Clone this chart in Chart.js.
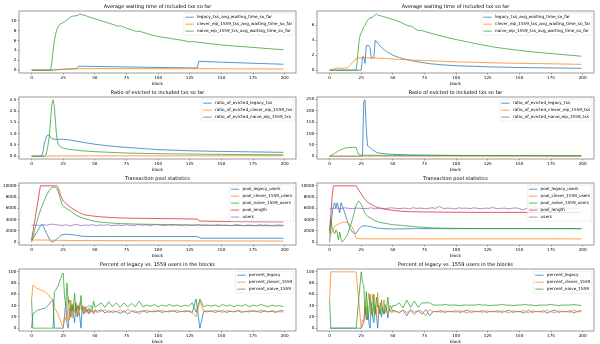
<!DOCTYPE html>
<html><head><meta charset="utf-8">
<script src="https://cdn.jsdelivr.net/npm/chart.js@4"></script>
<style>
html,body{margin:0;padding:0;background:#fff;}
#wrap{position:relative;width:600px;height:344px;overflow:hidden;background:#fff;}
canvas{position:absolute;}
</style></head><body><div id="wrap"></div>
<script>
// ---------- tick labels ----------
const xTicks = [0, 25, 50, 75, 100, 125, 150, 175, 200];
const waitLTicks = [0, 2, 4, 6, 8, 10];
const waitRTicks = [0, 2, 4, 6];
const evictLTicks = [0, 0.5, 1.0, 1.5, 2.0, 2.5];
const evictRTicks = [0, 50, 100, 150, 200, 250];
const poolTicks = [0, 2000, 4000, 6000, 8000, 10000];
const pctTicks = [0, 20, 40, 60, 80, 100];

// ---------- titles / labels ----------
const titles = ["Average waiting time of included txs so far", "Ratio of evicted to included txs so far",
  "Transaction pool statistics", "Percent of legacy vs. 1559 users in the blocks"];
const waitLabels = ["legacy_txs_avg_waiting_time_so_far", "clever_eip_1559_txs_avg_waiting_time_so_far", "naive_eip_1559_txs_avg_waiting_time_so_far"];
const evictLabels = ["ratio_of_evicted_legacy_txs", "ratio_of_evicted_clever_eip_1559_txs", "ratio_of_evicted_naive_eip_1559_txs"];
const poolLabels = ["pool_legacy_users", "pool_clever_1559_users", "pool_naive_1559_users", "pool_length", "users"];
const pctLabels = ["percent_legacy", "percent_clever_1559", "percent_naive_1559"];

// ---------- chart 1: waiting time (left) [block, value] ----------
const waitL_legacy = [[0,0],[15,0],[20,0.1],[25,0.18],[30,0.25],[36,0.3],[37,0.8],[50,0.75],[75,0.65],[100,0.55],[125,0.47],[131,0.45],[132,1.8],[150,1.62],[175,1.4],[199,1.2]];
const waitL_clever = [[0,0],[15,0],[20,0.08],[25,0.15],[30,0.22],[37,0.3],[50,0.32],[100,0.3],[150,0.28],[199,0.25]];
const waitL_naive = [[0,0],[15,0],[16,1.5],[17,4],[18,6],[19,7.3],[20,8.2],[21,8.8],[22,9.2],[24,9.5],[26,9.8],[28,10.2],[30,10.6],[32,10.9],[35,11.0],[37,11.1],[38,11.4],[40,11.2],[42,11.1],[45,10.8],[50,10.4],[55,10.0],[60,9.6],[65,9.2],[68,8.9],[70,9.0],[72,8.8],[75,8.5],[80,8.1],[83,7.8],[85,7.9],[90,7.5],[95,7.1],[100,6.8],[110,6.4],[120,6.0],[125,5.7],[126,5.85],[130,5.7],[140,5.4],[150,5.1],[160,4.9],[170,4.7],[180,4.5],[190,4.3],[199,4.15]];

// ---------- chart 2: waiting time (right) ----------
const waitR_legacy = [[0,0],[25,0],[26,1.8],[27,1.8],[28,0.9],[29,3.3],[31,3.3],[32,3.0],[33,1.6],[35,1.7],[36,4.0],[37,3.9],[39,3.4],[42,2.9],[45,2.5],[50,2.0],[55,1.7],[60,1.45],[70,1.1],[80,0.85],[90,0.7],[100,0.6],[125,0.45],[150,0.35],[175,0.3],[199,0.25]];
const waitR_clever = [[0,0],[3,0.15],[6,0.3],[9,0.25],[12,0.25],[14,0.3],[16,0.6],[18,1.0],[20,1.4],[22,1.6],[25,1.65],[35,1.65],[45,1.55],[55,1.45],[65,1.35],[80,1.25],[100,1.12],[125,1.0],[150,0.92],[175,0.85],[199,0.78]];
const waitR_naive = [[0,0],[21,0],[22,1.5],[23,3.5],[24,4.6],[25,5.0],[26,5.3],[27,5.8],[28,6.0],[29,6.4],[30,6.7],[31,6.9],[32,7.0],[34,7.1],[36,7.4],[37,7.55],[38,7.4],[40,7.3],[42,7.2],[44,7.1],[46,7.0],[50,6.8],[55,6.5],[60,6.1],[63,5.9],[65,5.9],[68,5.5],[70,5.3],[72,5.35],[75,5.2],[80,4.95],[90,4.5],[100,4.1],[110,3.75],[120,3.4],[130,3.1],[140,2.85],[150,2.65],[160,2.45],[170,2.3],[180,2.15],[190,2.0],[199,1.87]];

// ---------- chart 3: evicted ratio (left) ----------
const evictL_legacy = [[0,0],[8,0],[9,0.2],[10,0.5],[11,0.75],[12,0.9],[13,0.93],[14,0.92],[15,0.85],[16,0.78],[17,0.76],[20,0.75],[25,0.75],[30,0.72],[35,0.67],[40,0.62],[50,0.53],[60,0.46],[70,0.41],[80,0.37],[90,0.33],[100,0.29],[125,0.24],[150,0.21],[175,0.19],[199,0.17]];
const evictL_clever = [[0,0],[10,0],[20,0.01],[199,0.02]];
const evictL_naive = [[0,0],[10,0],[11,0.05],[12,0.2],[13,0.5],[14,0.9],[15,1.6],[16,2.3],[17,2.5],[18,2.2],[19,1.4],[20,0.8],[21,0.55],[22,0.45],[24,0.38],[26,0.34],[30,0.3],[40,0.24],[50,0.2],[75,0.14],[100,0.11],[150,0.08],[199,0.06]];

// ---------- chart 4: evicted ratio (right) ----------
const evictR_legacy = [[0,0],[26,0],[27,240],[28,248],[29,120],[30,45],[31,42],[32,38],[34,28],[36,20],[38,15],[40,13],[45,10],[50,8],[60,6],[75,4.5],[100,3.5],[150,2.2],[199,1.5]];
const evictR_clever = [[0,0],[199,0]];
const evictR_naive = [[0,0],[2,5],[4,12],[6,20],[8,26],[10,31],[12,35],[14,37],[16,38.5],[18,39],[21,39],[22,20],[23,8],[24,5],[26,4.5],[30,4],[50,3.5],[100,3],[150,2.5],[199,2.2]];

// ---------- chart 5: pool (left) ----------
const poolL_legacy = [[0,300],[2,1000],[4,1700],[6,2500],[8,3200],[9,3000],[10,2500],[12,1500],[14,600],[15,200],[16,50],[17,50],[18,200],[20,600],[22,1000],[24,1300],[26,1400],[28,1400],[30,1350],[33,1300],[36,1200],[40,1050],[45,1000],[60,1000],[100,1000],[131,1000],[132,900],[134,700],[199,700]];
const poolL_clever = [[0,400],[10,380],[20,330],[40,280],[80,250],[130,230],[199,200]];
const poolL_naive = [[0,0],[2,1800],[4,3500],[6,5000],[8,6300],[10,7400],[12,8400],[14,9200],[16,9700],[18,9750],[19,9700],[20,9500],[21,9000],[22,8300],[23,7500],[24,6700],[25,6400],[27,6100],[29,5800],[31,5500],[33,5100],[36,4700],[39,4400],[42,4200],[46,3900],[50,3700],[55,3550],[60,3450],[70,3300],[85,3200],[100,3150],[130,3050],[160,2950],[199,2900]];
const poolL_length = [[0,400],[7,10000],[20,10000],[21,9600],[22,9000],[23,8300],[25,7300],[27,6900],[29,6500],[32,6000],[35,5600],[38,5200],[41,4900],[45,4750],[50,4600],[55,4500],[65,4350],[80,4250],[100,4200],[131,4100],[132,3850],[133,3750],[150,3680],[175,3620],[199,3600]];

// ---------- chart 6: pool (right) ----------
const poolR_legacy = [[0,0],[1,2500],[2,5000],[3,6500],[4,7000],[5,6000],[6,7000],[7,6200],[8,5200],[9,7000],[10,6500],[12,5200],[14,3800],[16,2500],[18,1800],[20,1500],[21,1600],[23,2300],[25,2800],[27,2900],[29,2900],[32,2800],[35,2600],[38,2500],[42,2400],[50,2350],[70,2400],[100,2400],[150,2400],[199,2400]];
const poolR_clever = [[0,900],[2,2000],[4,2800],[6,3100],[8,3300],[10,3500],[12,3600],[14,3500],[16,3200],[18,2600],[19,2000],[20,1300],[21,800],[22,650],[25,600],[50,600],[100,600],[150,600],[199,580]];
const poolR_naive = [[0,1500],[1,4000],[2,2500],[3,2000],[4,1500],[5,2200],[6,1800],[7,400],[8,1800],[9,600],[10,50],[12,600],[14,1300],[16,2600],[18,4000],[19,4800],[20,5800],[21,6600],[22,7000],[23,7300],[24,7100],[25,6700],[26,6200],[27,5600],[28,5100],[30,4600],[33,4200],[36,3800],[40,3500],[45,3300],[50,3100],[56,3000],[62,2850],[70,2700],[80,2550],[90,2480],[110,2430],[150,2420],[199,2400]];
const poolR_length = [[0,2000],[1,5000],[2,8000],[3,10000],[21,10000],[22,9600],[24,8900],[26,8200],[28,7600],[30,7100],[33,6700],[36,6300],[40,6000],[45,5800],[50,5650],[56,5500],[65,5400],[80,5350],[100,5300],[150,5280],[199,5250]];

// users series share these blocks
const userBlocks = [0,3,6,9,12,15,18,21,24,27,
  30,33,36,39,42,45,48,51,54,57,
  60,63,66,69,72,75,78,81,84,87,
  90,93,96,99,102,105,108,111,114,117,
  120,123,126,129,132,135,138,141,144,147,
  150,153,156,159,162,165,168,171,174,177,
  180,183,186,189,192,195,198,199];
const usersL = [3000,3050,2950,3100,3000,3200,3150,3050,2950,3100,
  2900,3050,3150,2900,3050,3000,3100,2950,3050,3000,
  3100,2950,3000,3050,2950,3100,3000,2950,3150,3000,
  3100,2950,3050,3150,3000,2950,3050,3000,3100,2950,
  3000,3050,2950,3000,3100,2950,3050,3000,2950,3100,
  3000,3050,2950,3000,3150,3000,2950,3050,3000,2950,
  3100,3000,3050,2950,3000,3050,3000,3000];
const usersR = [5900,6000,6050,5950,6100,6000,5950,6050,6000,5950,
  6000,6100,5900,6050,6000,5950,6100,6050,5950,6000,
  6050,5900,6100,6000,6050,5950,6000,6100,6000,6350,
  5950,6050,6000,5900,6100,6000,6050,5950,6100,6000,
  5950,6050,6000,6150,5950,6000,6050,5900,6000,6100,
  5950,5700,6050,6000,6100,5950,6050,6000,6150,5950,
  6000,6100,6050,5950,6050,6000,6100,6000];

// ---------- charts 7/8: percent ----------
const pctBlocks = [0,1,2,3,4,5,6,7,8,9,
  10,11,12,13,14,15,16,17,18,19,
  20,21,22,23,24,25,26,27,28,29,
  30,31,32,33,34,35,36,37,38,39,
  40,41,42,43,44,45,46,47,48,49,
  50,
  52,55,58,61,64,67,70,73,76,79,
  82,85,88,91,94,97,100,103,106,109,
  112,115,118,121,124,127,130,133,136,139,
  142,145,148,151,154,157,160,163,166,169,
  172,175,178,181,184,187,190,193,196,199];
const pctL_legacy = [0,25,27,29,31,32,33,33,34,35,
  35,36,38,40,43,46,49,48,0,0,
  0,0,0,0,0,0,20,45,8,0,
  35,20,40,25,10,45,20,40,22,0,
  38,25,36,28,34,25,35,28,32,27,
  33,
  30,33,27,31,28,30,26,31,25,30,
  28,29,31,28,30,29,31,28,30,29,
  31,28,30,29,31,28,52,0,30,29,
  31,28,30,31,28,30,29,31,28,30,
  29,31,30,28,31,29,30,28,31,31];
const pctL_clever = [50,76,75,73,71,70,69,68,67,66,
  65,64,62,60,57,54,51,52,35,33,
  28,25,18,12,6,2,22,15,12,55,
  15,50,18,45,28,25,42,22,45,42,
  30,40,26,36,28,35,27,32,34,25,
  30,
  28,30,33,27,31,29,32,28,33,30,
  31,25,30,32,29,31,30,32,29,31,
  30,32,29,31,30,27,20,48,30,31,
  29,32,30,28,31,30,29,32,30,29,
  31,30,29,32,30,29,31,30,29,29];
const pctL_naive = [50,0,0,0,0,0,0,0,0,0,
  0,0,0,0,0,0,0,0,65,67,
  72,75,82,88,94,98,58,40,80,45,
  50,30,42,30,62,30,38,38,33,58,
  32,35,38,36,38,40,38,40,34,48,
  37,
  40,45,37,47,38,45,37,45,38,44,
  38,48,38,41,39,42,38,41,39,42,
  39,41,38,41,39,45,28,52,38,41,
  39,41,38,42,39,41,38,41,39,42,
  38,41,39,42,40,38,41,39,40,38];
const pctR_legacy = [0,0,0,0,0,0,0,0,0,0,
  0,0,0,0,0,0,0,0,0,0,
  0,0,0,0,0,0,5,10,35,15,
  40,10,0,45,20,10,40,25,0,35,
  30,20,38,25,30,35,18,32,30,28,
  32,
  30,28,32,22,33,28,31,25,33,22,
  30,29,31,28,30,29,31,28,30,32,
  28,30,29,31,28,30,29,31,28,30,
  32,28,30,29,27,32,28,30,29,31,
  27,30,32,28,30,29,31,27,30,31];
const pctR_clever = [50,100,100,100,100,100,100,100,100,100,
  100,100,100,100,100,100,100,100,100,100,
  100,100,75,50,25,0,15,12,40,20,
  45,62,40,25,60,30,35,20,63,25,
  45,30,35,50,28,32,27,35,30,36,
  28,
  30,27,32,28,30,24,32,30,22,33,
  29,30,28,31,29,30,28,31,29,27,
  31,29,30,28,31,29,30,28,31,29,
  27,31,29,30,31,27,31,29,30,28,
  32,29,27,31,29,30,28,32,29,29];
const pctR_naive = [50,0,0,0,0,0,0,0,0,0,
  0,0,0,0,0,0,0,0,0,0,
  0,0,25,50,75,100,80,78,25,65,
  15,28,60,30,20,60,25,55,37,40,
  25,50,27,25,42,33,55,33,40,36,
  40,
  40,45,36,50,37,48,37,45,45,45,
  41,41,41,42,41,41,41,40,41,41,
  41,41,42,41,41,40,41,41,42,41,
  41,40,41,41,42,41,41,40,41,41,
  41,42,41,40,41,41,41,42,41,40];

// ---------- rendering ----------
const COLORS = ['#1f77b4', '#ff7f0e', '#2ca02c', '#d62728', '#9467bd'];
const FONT = 'DejaVu Sans';
const FS = 4.17;       // tick / legend / label font
const TFS = 5.0;       // title font
const LW = 0.75;

const pairs = a => a.map(p => ({x: p[0], y: p[1]}));
const zip = (xs, ys) => xs.map((x, i) => ({x: x, y: ys[i]}));

const mplPlugin = {
  id: 'mpl',
  afterDraw(chart) {
    const o = chart.options.plugins.mpl;
    const ctx = chart.ctx, a = chart.chartArea;
    ctx.save();
    ctx.strokeStyle = '#222'; ctx.lineWidth = 0.45;
    ctx.strokeRect(a.left, a.top, a.right - a.left, a.bottom - a.top);
    ctx.fillStyle = '#000';
    ctx.font = TFS + 'px "' + FONT + '"';
    ctx.textAlign = 'center'; ctx.textBaseline = 'alphabetic';
    ctx.fillText(o.title, (a.left + a.right) / 2, a.top - 2.6);
    ctx.font = FS + 'px "' + FONT + '"';
    ctx.textBaseline = 'middle';
    ctx.fillText('block', (a.left + a.right) / 2, a.bottom + 10.6);
    // legend (matplotlib style, upper right)
    const ds = chart.data.datasets;
    const bp = 0.4 * FS, ls = 0.5 * FS, hl = 2 * FS, htp = 0.8 * FS, bap = 0.5 * FS, rh = 1.17 * FS;
    let mw = 0;
    ds.forEach(d => { mw = Math.max(mw, ctx.measureText(d.label).width); });
    const w = 2 * bp + hl + htp + mw;
    const h = 2 * bp + ds.length * rh + (ds.length - 1) * ls;
    const x0 = a.right - bap - w, y0 = a.top + bap;
    ctx.fillStyle = 'rgba(255,255,255,0.8)';
    ctx.strokeStyle = 'rgba(204,204,204,0.8)'; ctx.lineWidth = 0.4;
    ctx.beginPath();
    if (ctx.roundRect) ctx.roundRect(x0, y0, w, h, 0.2 * FS); else ctx.rect(x0, y0, w, h);
    ctx.fill(); ctx.stroke();
    ctx.textAlign = 'left'; ctx.textBaseline = 'middle';
    ds.forEach((d, i) => {
      const cy = y0 + bp + i * (rh + ls) + rh / 2;
      ctx.strokeStyle = d.borderColor; ctx.lineWidth = LW;
      ctx.beginPath(); ctx.moveTo(x0 + bp, cy); ctx.lineTo(x0 + bp + hl, cy); ctx.stroke();
      ctx.fillStyle = '#000';
      ctx.fillText(d.label, x0 + bp + hl + htp, cy + 0.2);
    });
    ctx.restore();
  }
};

function axisCommon() {
  return {
    grid: {display: true, drawOnChartArea: false, drawTicks: true, tickLength: 1.5, color: '#222', lineWidth: 0.4},
    border: {display: false},
  };
}

function makeChart(col, row, cfg) {
  const cv = document.createElement('canvas');
  cv.width = 300; cv.height = 86;
  cv.style.left = (col * 298) + 'px';
  cv.style.top = (row * 86) + 'px';
  cv.style.width = '300px'; cv.style.height = '86px';
  document.getElementById('wrap').appendChild(cv);
  const n = cfg.series.length;
  new Chart(cv, {
    type: 'line',
    data: {
      datasets: cfg.series.map((s, i) => ({
        label: cfg.labels[i], data: s, borderColor: COLORS[i], backgroundColor: COLORS[i],
        borderWidth: LW, pointRadius: 0, tension: 0, fill: false, order: n - i
      }))
    },
    options: {
      responsive: false, animation: false, devicePixelRatio: 1,
      layout: {padding: {top: 11, right: 4, left: 0, bottom: 0}},
      plugins: {legend: {display: false}, title: {display: false}, tooltip: {enabled: false},
        mpl: {title: cfg.title}},
      scales: {
        x: Object.assign(axisCommon(), {
          type: 'linear', min: -9.95, max: 208.95,
          afterFit(s) { s.height = 13; },
          afterBuildTicks(s) { s.ticks = xTicks.map(v => ({value: v})); },
          ticks: {font: {family: FONT, size: FS}, color: '#000', padding: 1.2, maxRotation: 0, autoSkip: false,
            callback: v => String(v)}
        }),
        y: Object.assign(axisCommon(), {
          type: 'linear', min: cfg.ymin, max: cfg.ymax,
          afterFit(s) { s.width = 19; },
          afterBuildTicks(s) { s.ticks = cfg.yticks.map(v => ({value: v})); },
          ticks: {font: {family: FONT, size: FS}, color: '#000', padding: 1.2, autoSkip: false,
            callback: cfg.yfmt || (v => String(v))}
        })
      }
    },
    plugins: [mplPlugin]
  });
}

makeChart(0, 0, {title: titles[0], labels: waitLabels, ymin: -0.57, ymax: 11.97, yticks: waitLTicks,
  series: [pairs(waitL_legacy), pairs(waitL_clever), pairs(waitL_naive)]});
makeChart(1, 0, {title: titles[0], labels: waitLabels, ymin: -0.38, ymax: 7.93, yticks: waitRTicks,
  series: [pairs(waitR_legacy), pairs(waitR_clever), pairs(waitR_naive)]});
makeChart(0, 1, {title: titles[1], labels: evictLabels, ymin: -0.125, ymax: 2.625, yticks: evictLTicks,
  yfmt: v => v.toFixed(1),
  series: [pairs(evictL_legacy), pairs(evictL_clever), pairs(evictL_naive)]});
makeChart(1, 1, {title: titles[1], labels: evictLabels, ymin: -12.4, ymax: 260.4, yticks: evictRTicks,
  series: [pairs(evictR_legacy), pairs(evictR_clever), pairs(evictR_naive)]});
makeChart(0, 2, {title: titles[2], labels: poolLabels, ymin: -500, ymax: 10500, yticks: poolTicks,
  series: [pairs(poolL_legacy), pairs(poolL_clever), pairs(poolL_naive), pairs(poolL_length), zip(userBlocks, usersL)]});
makeChart(1, 2, {title: titles[2], labels: poolLabels, ymin: -500, ymax: 10500, yticks: poolTicks,
  series: [pairs(poolR_legacy), pairs(poolR_clever), pairs(poolR_naive), pairs(poolR_length), zip(userBlocks, usersR)]});
makeChart(0, 3, {title: titles[3], labels: pctLabels, ymin: -5, ymax: 105, yticks: pctTicks,
  series: [zip(pctBlocks, pctL_legacy), zip(pctBlocks, pctL_clever), zip(pctBlocks, pctL_naive)]});
makeChart(1, 3, {title: titles[3], labels: pctLabels, ymin: -5, ymax: 105, yticks: pctTicks,
  series: [zip(pctBlocks, pctR_legacy), zip(pctBlocks, pctR_clever), zip(pctBlocks, pctR_naive)]});
</script></body></html>
